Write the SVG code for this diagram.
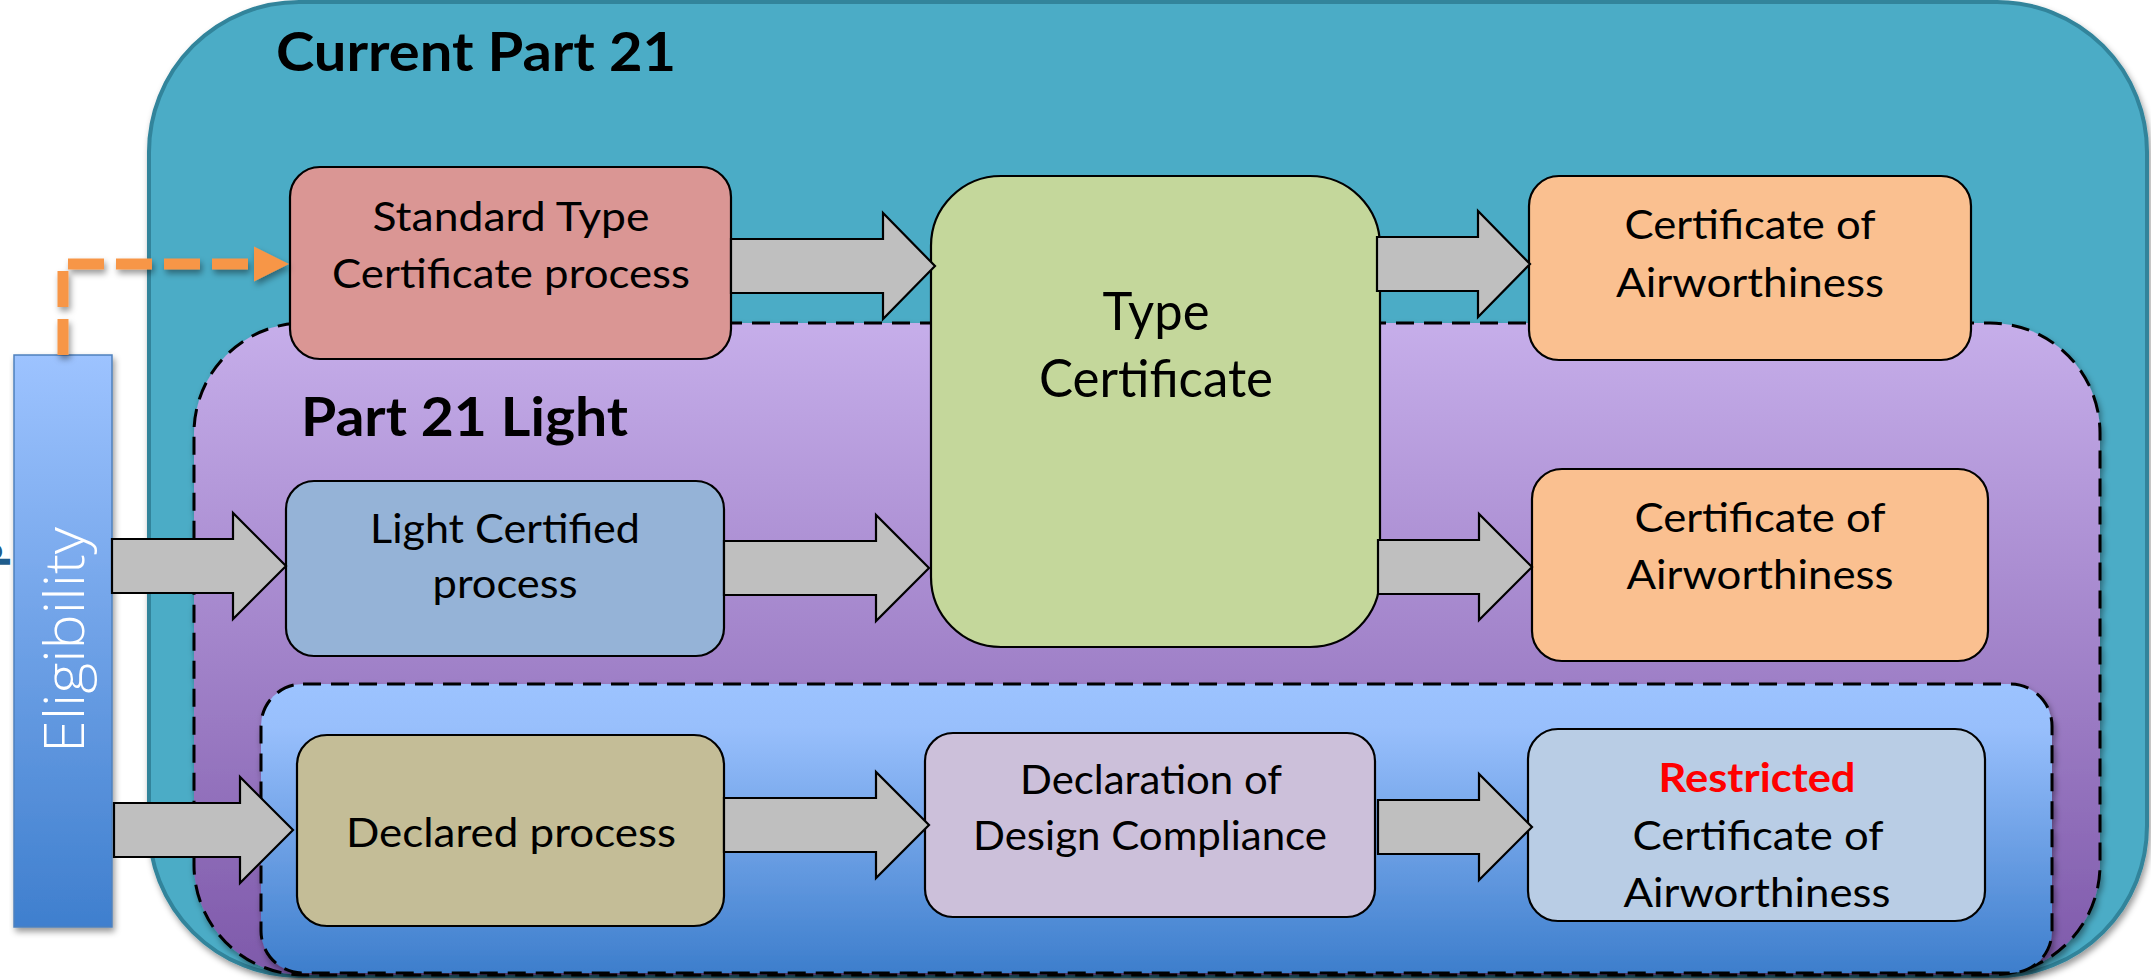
<svg xmlns="http://www.w3.org/2000/svg" width="2151" height="980" viewBox="0 0 2151 980">
  <defs>
    <style>
      .box { stroke: #000; stroke-width: 2.2; }
      .zone { stroke: #000; stroke-width: 3; stroke-dasharray: 18 10; }
      .arrow { fill: #BFBFBF; stroke: #000; stroke-width: 2.2; stroke-linejoin: miter; }
      .lbl { font-family: Lato, "Open Sans", "Liberation Sans", sans-serif; font-size: 41px; fill: #000; text-anchor: middle; }
      .big { font-size: 52px; }
      .ttl { font-family: Lato, "Open Sans", "Liberation Sans", sans-serif; font-weight: 700; font-size: 54px; fill: #000; }
      .red { font-weight: 700; fill: #FF0000; }
      .elig { font-family: "Open Sans", Lato, "Liberation Sans", sans-serif; font-weight: 300; font-size: 55px; fill: #FFFFFF; }
    </style>
    <linearGradient id="gPurple" x1="0" y1="0" x2="0" y2="1">
      <stop offset="0" stop-color="#C6AEEA"/>
      <stop offset="1" stop-color="#7E59AA"/>
    </linearGradient>
    <linearGradient id="gBlue" x1="0" y1="0" x2="0" y2="1">
      <stop offset="0" stop-color="#9CC3FF"/>
      <stop offset="0.15" stop-color="#98BFFC"/>
      <stop offset="1" stop-color="#3D7ECC"/>
    </linearGradient>
    <linearGradient id="gElig" x1="0" y1="0" x2="0" y2="1">
      <stop offset="0" stop-color="#9DC3FF"/>
      <stop offset="1" stop-color="#3F7FCE"/>
    </linearGradient>
    <filter id="shadow" x="-5%" y="-5%" width="115%" height="115%">
      <feDropShadow dx="2" dy="4" stdDeviation="3" flood-color="#000" flood-opacity="0.4"/>
    </filter>
  </defs>

  <!-- Containers -->
  <g id="current-part21">
    <rect x="149" y="2" width="1998" height="974" rx="150" fill="#4BACC6" stroke="#31849B" stroke-width="4" filter="url(#shadow)"/>
    <text class="ttl" x="476" y="71" text-anchor="middle" textLength="400" lengthAdjust="spacingAndGlyphs">Current Part 21</text>
  </g>

  <g id="part21-light">
    <rect class="zone" x="194" y="323" width="1906" height="652" rx="110" fill="url(#gPurple)" filter="url(#shadow)"/>
    <text class="ttl" x="464.5" y="436" text-anchor="middle" textLength="327" lengthAdjust="spacingAndGlyphs">Part 21 Light</text>
  </g>

  <g id="declared-zone">
    <rect class="zone" x="261" y="684" width="1791" height="289" rx="42" fill="url(#gBlue)" filter="url(#shadow)"/>
  </g>

  <!-- Side text partly outside the frame -->
  <text transform="translate(-22,541) rotate(90)" font-family="'Liberation Sans', sans-serif" font-weight="700" font-size="44" fill="#1F5D8C">d</text>

  <!-- Eligibility bar -->
  <g id="eligibility">
    <rect x="14" y="355" width="98" height="572" fill="url(#gElig)" stroke="#4F81BD" stroke-width="1.5" filter="url(#shadow)"/>
    <text class="elig" transform="translate(84,753) rotate(-90)" x="0" y="0" textLength="226" lengthAdjust="spacingAndGlyphs">Eligibility</text>
  </g>

  <!-- Process nodes -->
  <g id="standard-tc-process">
    <rect class="box" x="290" y="167" width="441" height="192" rx="30" fill="#DA9694"/>
    <text class="lbl" x="511" y="231" textLength="277" lengthAdjust="spacingAndGlyphs">Standard Type</text>
    <text class="lbl" x="511" y="288" textLength="358" lengthAdjust="spacingAndGlyphs">Certificate process</text>
  </g>

  <g id="type-certificate">
    <rect class="box" x="931" y="176" width="449" height="471" rx="70" fill="#C4D79B"/>
    <text class="lbl big" x="1156" y="330" textLength="107" lengthAdjust="spacingAndGlyphs">Type</text>
    <text class="lbl big" x="1156" y="397" textLength="234" lengthAdjust="spacingAndGlyphs">Certificate</text>
  </g>

  <g id="coa-standard">
    <rect class="box" x="1529" y="176" width="442" height="184" rx="30" fill="#FAC090"/>
    <text class="lbl" x="1750" y="239" textLength="251" lengthAdjust="spacingAndGlyphs">Certificate of</text>
    <text class="lbl" x="1750" y="297" textLength="268" lengthAdjust="spacingAndGlyphs">Airworthiness</text>
  </g>

  <g id="light-certified-process">
    <rect class="box" x="286" y="481" width="438" height="175" rx="28" fill="#95B3D7"/>
    <text class="lbl" x="505" y="543" textLength="270" lengthAdjust="spacingAndGlyphs">Light Certified</text>
    <text class="lbl" x="505" y="598" textLength="145" lengthAdjust="spacingAndGlyphs">process</text>
  </g>

  <g id="coa-light">
    <rect class="box" x="1532" y="469" width="456" height="192" rx="30" fill="#FAC090"/>
    <text class="lbl" x="1760" y="532" textLength="251" lengthAdjust="spacingAndGlyphs">Certificate of</text>
    <text class="lbl" x="1760" y="589" textLength="267" lengthAdjust="spacingAndGlyphs">Airworthiness</text>
  </g>

  <g id="declared-process">
    <rect class="box" x="297" y="735" width="427" height="191" rx="30" fill="#C4BD97"/>
    <text class="lbl" x="511" y="847" textLength="330" lengthAdjust="spacingAndGlyphs">Declared process</text>
  </g>

  <g id="declaration-design-compliance">
    <rect class="box" x="925" y="733" width="450" height="184" rx="28" fill="#CCC0DA"/>
    <text class="lbl" x="1151" y="794" textLength="262" lengthAdjust="spacingAndGlyphs">Declaration of</text>
    <text class="lbl" x="1150" y="850" textLength="354" lengthAdjust="spacingAndGlyphs">Design Compliance</text>
  </g>

  <g id="restricted-coa">
    <rect class="box" x="1528" y="729" width="457" height="192" rx="30" fill="#B9CDE5"/>
    <text class="lbl red" x="1757" y="792" textLength="197" lengthAdjust="spacingAndGlyphs">Restricted</text>
    <text class="lbl" x="1758" y="850" textLength="251" lengthAdjust="spacingAndGlyphs">Certificate of</text>
    <text class="lbl" x="1757" y="907" textLength="267" lengthAdjust="spacingAndGlyphs">Airworthiness</text>
  </g>

  <!-- Connectors -->
  <g id="connectors">
    <g filter="url(#shadow)">
      <path d="M63,355 V264 H254" fill="none" stroke="#F79646" stroke-width="11" stroke-dasharray="36 12"/>
      <polygon points="254,246.5 289,264 254,281.5" fill="#F79646"/>
    </g>
    <polygon class="arrow" points="731,239 883,239 883,213 935,266 883,319 883,293 731,293"/>
    <polygon class="arrow" points="1377,237 1478,237 1478,211 1530,264 1478,317 1478,291 1377,291"/>
    <polygon class="arrow" points="112,539 233,539 233,513 286,566 233,619 233,593 112,593"/>
    <polygon class="arrow" points="724,541 876,541 876,515 929,568 876,621 876,595 724,595"/>
    <polygon class="arrow" points="1378,540 1479,540 1479,514 1532,567 1479,620 1479,594 1378,594"/>
    <polygon class="arrow" points="114,803 240,803 240,777 293,830 240,883 240,857 114,857"/>
    <polygon class="arrow" points="724,798 876,798 876,772 929,825 876,878 876,852 724,852"/>
    <polygon class="arrow" points="1378,800 1479,800 1479,774 1532,827 1479,880 1479,854 1378,854"/>
  </g>
</svg>
